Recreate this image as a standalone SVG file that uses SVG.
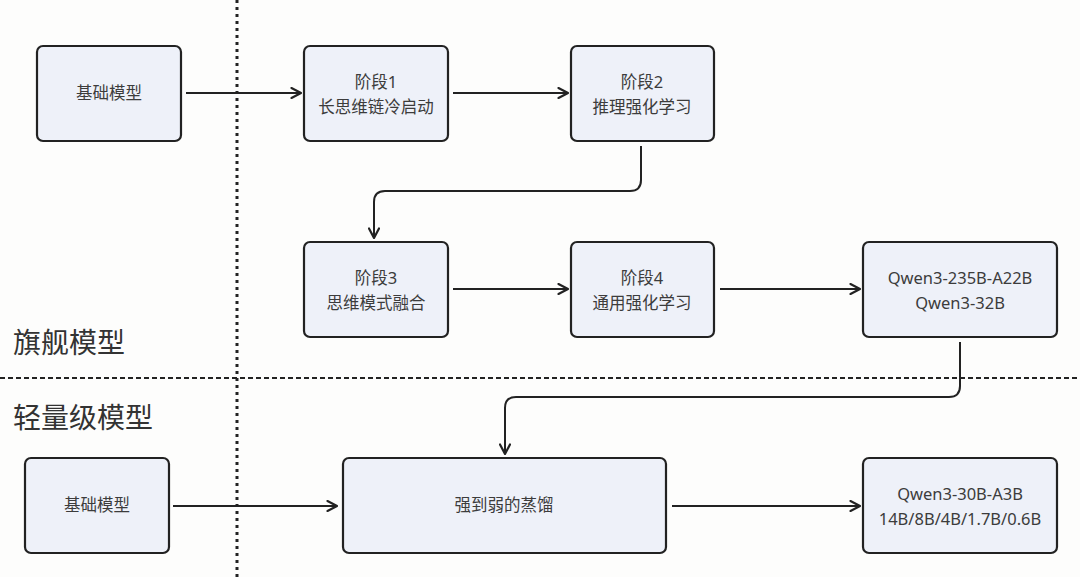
<svg xmlns="http://www.w3.org/2000/svg" width="1080" height="577" viewBox="0 0 1080 577">
<defs>
<style>
.box{fill:#eef1f9;stroke:#222;stroke-width:2.2}
.t{font-family:"Noto Sans","Noto Sans CJK SC",sans-serif;font-size:16.5px;fill:#3c3c3c;text-anchor:middle}
.sec{font-family:"Noto Sans CJK SC","Noto Sans",sans-serif;font-size:28px;fill:#333}
.c{fill:none;stroke:#222;stroke-width:2}
</style>
<marker id="ah" viewBox="0 0 12 12" refX="11" refY="6" markerWidth="12" markerHeight="12" markerUnits="userSpaceOnUse" orient="auto">
<path d="M1.5,1 L11,6 L1.5,11" fill="none" stroke="#222" stroke-width="2.2" stroke-linecap="round" stroke-linejoin="round"/>
</marker>
</defs>
<rect width="1080" height="577" fill="#fdfdfc"/>
<g id="dividers">
<line x1="237" y1="0" x2="237" y2="577" stroke="#222" stroke-width="3" stroke-dasharray="3 4"/>
<line x1="0" y1="378" x2="1080" y2="378" stroke="#222" stroke-width="2" stroke-dasharray="5 3"/>
</g>
<g id="section-labels">
<text class="sec" x="13" y="353">旗舰模型</text>
<text class="sec" x="13" y="428">轻量级模型</text>
</g>
<g id="connectors">
<line class="c" x1="186" y1="93" x2="301" y2="93" marker-end="url(#ah)"/>
<line class="c" x1="453" y1="93" x2="568" y2="93" marker-end="url(#ah)"/>
<path class="c" d="M641,146 V180 Q641,191 630,191 H385 Q374,191 374,202 V238" marker-end="url(#ah)"/>
<line class="c" x1="453" y1="289" x2="568" y2="289" marker-end="url(#ah)"/>
<line class="c" x1="720" y1="289" x2="860" y2="289" marker-end="url(#ah)"/>
<path class="c" d="M960,342 V386 Q960,397 949,397 H516 Q505,397 505,408 V454" marker-end="url(#ah)"/>
<line class="c" x1="173" y1="506" x2="337" y2="506" marker-end="url(#ah)"/>
<line class="c" x1="672" y1="506" x2="860" y2="506" marker-end="url(#ah)"/>
</g>
<g id="base-top">
<rect class="box" x="37" y="46" width="144" height="95" rx="6"/>
<text class="t" x="109" y="99">基础模型</text>
</g>
<g id="stage1">
<rect class="box" x="304" y="46" width="144" height="95" rx="6"/>
<text class="t" x="376" y="88">阶段1</text>
<text class="t" x="376" y="113">长思维链冷启动</text>
</g>
<g id="stage2">
<rect class="box" x="571" y="46" width="143" height="95" rx="6"/>
<text class="t" x="642" y="88">阶段2</text>
<text class="t" x="642" y="113">推理强化学习</text>
</g>
<g id="stage3">
<rect class="box" x="304" y="242" width="144" height="95" rx="6"/>
<text class="t" x="376" y="284">阶段3</text>
<text class="t" x="376" y="309">思维模式融合</text>
</g>
<g id="stage4">
<rect class="box" x="571" y="242" width="143" height="95" rx="6"/>
<text class="t" x="642" y="284">阶段4</text>
<text class="t" x="642" y="309">通用强化学习</text>
</g>
<g id="flagship">
<rect class="box" x="863" y="242" width="194" height="95" rx="6"/>
<text class="t" x="960" y="284">Qwen3-235B-A22B</text>
<text class="t" x="960" y="309">Qwen3-32B</text>
</g>
<g id="base-bottom">
<rect class="box" x="25" y="458" width="144" height="95" rx="6"/>
<text class="t" x="97" y="511">基础模型</text>
</g>
<g id="distill">
<rect class="box" x="343" y="458" width="323" height="95" rx="6"/>
<text class="t" x="504" y="511">强到弱的蒸馏</text>
</g>
<g id="light">
<rect class="box" x="863" y="458" width="194" height="95" rx="6"/>
<text class="t" x="960" y="500">Qwen3-30B-A3B</text>
<text class="t" x="960" y="525">14B/8B/4B/1.7B/0.6B</text>
</g>
</svg>
